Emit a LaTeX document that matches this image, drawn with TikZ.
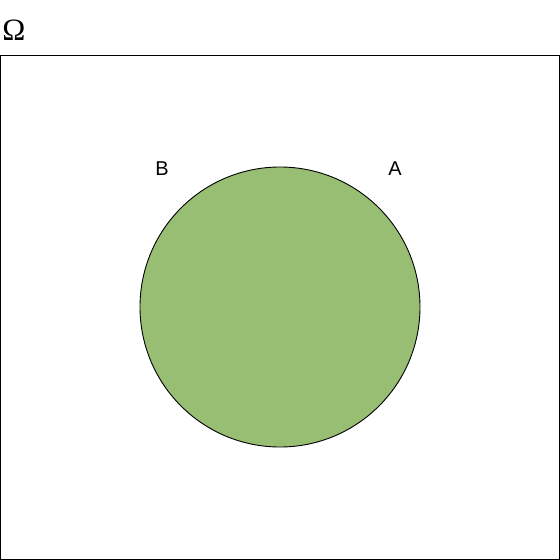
\documentclass[tikz,border=0pt]{standalone}
\usepackage{fontspec}
\setmainfont{Liberation Serif}
\newfontfamily\labelfont{Liberation Sans}
\definecolor{setgreen}{RGB}{152,190,116}
\begin{document}
\begin{tikzpicture}[x=1pt,y=-1pt,line width=0.9pt]
\tikzset{setlabel/.style={font=\labelfont\fontsize{20}{24}\selectfont}}
\useasboundingbox (0,0) rectangle (560,560);

% Univers
\draw (0.5,55) rectangle (559.5,559.5);
\node[font=\fontsize{31}{36}\selectfont] (omega) at (14,30) {Ω};

% Ensembles
\draw[fill=setgreen] (280,307) circle (140);

% Labels
\node[setlabel] (labelB) at (162,169) {B};
\node[setlabel] (labelA) at (395,169) {A};

\end{tikzpicture}
\end{document}
